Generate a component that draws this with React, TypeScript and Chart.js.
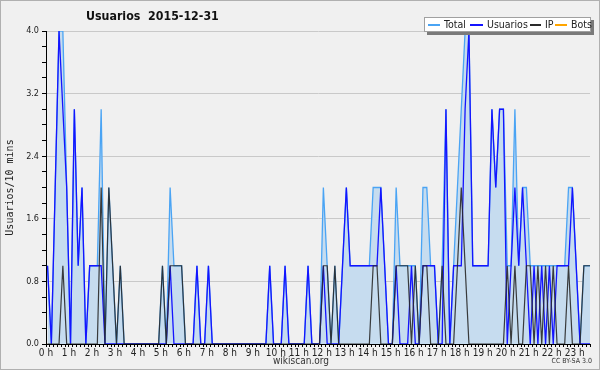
import React, { useEffect, useRef } from "react";
import { Chart, registerables } from "chart.js";

Chart.register(...registerables);

// 10-minute slots from 00:00 (index 0) to 23:40 (index 142)
const hourLabels = [
  "0 h", "1 h", "2 h", "3 h", "4 h", "5 h", "6 h", "7 h", "8 h", "9 h", "10 h", "11 h",
  "12 h", "13 h", "14 h", "15 h", "16 h", "17 h", "18 h", "19 h", "20 h", "21 h", "22 h", "23 h",
];
const yTickLabels = ["0.0", "0.8", "1.6", "2.4", "3.2", "4.0"];

const totalValues = [
  1, 0, 2, 4, 4, 2, 0, 3, 1, 2,
  0, 1, 1, 1, 3, 0, 2, 1, 0, 1,
  0, 0, 0, 0, 0, 0, 0, 0, 0, 0,
  1, 0, 2, 1, 1, 1, 0, 0, 0, 1,
  0, 0, 1, 0, 0, 0, 0, 0, 0, 0,
  0, 0, 0, 0, 0, 0, 0, 0, 1, 0,
  0, 0, 1, 0, 0, 0, 0, 0, 1, 0,
  0, 0, 2, 1, 0, 1, 0, 1, 2, 1,
  1, 1, 1, 1, 1, 2, 2, 2, 1, 0,
  0, 2, 1, 1, 1, 1, 1, 0, 2, 2,
  1, 1, 0, 1, 3, 0, 1, 2, 3, 4,
  4, 1, 1, 1, 1, 1, 3, 2, 3, 3,
  1, 1, 3, 1, 2, 2, 1, 1, 1, 1,
  1, 1, 1, 1, 1, 1, 2, 2, 1, 0,
  1, 1, 1,
];
const usuariosValues = [
  1, 0, 2, 4, 3, 2, 0, 3, 1, 2,
  0, 1, 1, 1, 1, 0, 0, 0, 0, 0,
  0, 0, 0, 0, 0, 0, 0, 0, 0, 0,
  0, 0, 1, 0, 0, 0, 0, 0, 0, 1,
  0, 0, 1, 0, 0, 0, 0, 0, 0, 0,
  0, 0, 0, 0, 0, 0, 0, 0, 1, 0,
  0, 0, 1, 0, 0, 0, 0, 0, 1, 0,
  0, 0, 1, 0, 0, 0, 0, 1, 2, 1,
  1, 1, 1, 1, 1, 1, 1, 2, 1, 0,
  0, 1, 0, 0, 0, 1, 0, 0, 1, 1,
  1, 1, 0, 0, 3, 0, 1, 1, 1, 3,
  4, 1, 1, 1, 1, 1, 3, 2, 3, 3,
  0, 1, 2, 1, 2, 1, 0, 1, 0, 1,
  0, 1, 0, 1, 1, 1, 1, 2, 1, 0,
  0, 0, 0,
];
const ipValues = [
  0, 0, 0, 0, 1, 0, 0, 0, 0, 0,
  0, 0, 0, 0, 2, 0, 2, 1, 0, 1,
  0, 0, 0, 0, 0, 0, 0, 0, 0, 0,
  1, 0, 1, 1, 1, 1, 0, 0, 0, 0,
  0, 0, 0, 0, 0, 0, 0, 0, 0, 0,
  0, 0, 0, 0, 0, 0, 0, 0, 0, 0,
  0, 0, 0, 0, 0, 0, 0, 0, 0, 0,
  0, 0, 1, 1, 0, 1, 0, 0, 0, 0,
  0, 0, 0, 0, 0, 1, 1, 0, 0, 0,
  0, 1, 1, 1, 1, 0, 1, 0, 1, 1,
  0, 0, 0, 1, 0, 0, 0, 1, 2, 1,
  0, 0, 0, 0, 0, 0, 0, 0, 0, 0,
  1, 0, 1, 0, 0, 1, 1, 0, 1, 0,
  1, 0, 1, 0, 0, 0, 1, 0, 0, 0,
  1, 1, 1,
];
const botsValues = [
  0, 0, 0, 0, 0, 0, 0, 0, 0, 0, 0, 0, 0, 0, 0, 0, 0, 0, 0, 0,
  0, 0, 0, 0, 0, 0, 0, 0, 0, 0, 0, 0, 0, 0, 0, 0, 0, 0, 0, 0,
  0, 0, 0, 0, 0, 0, 0, 0, 0, 0, 0, 0, 0, 0, 0, 0, 0, 0, 0, 0,
  0, 0, 0, 0, 0, 0, 0, 0, 0, 0, 0, 0, 0, 0, 0, 0, 0, 0, 0, 0,
  0, 0, 0, 0, 0, 0, 0, 0, 0, 0, 0, 0, 0, 0, 0, 0, 0, 0, 0, 0,
  0, 0, 0, 0, 0, 0, 0, 0, 0, 0, 0, 0, 0, 0, 0, 0, 0, 0, 0, 0,
  0, 0, 0, 0, 0, 0, 0, 0, 0, 0, 0, 0, 0, 0, 0, 0, 0, 0, 0, 0,
  0, 0, 0,
];

const SLOT_OFFSET = 0.4;
const toPoints = (arr: number[]) => arr.map((y, i) => ({ x: i + SLOT_OFFSET, y }));

const FONT = "'DejaVu Sans Condensed', 'DejaVu Sans', sans-serif";
const C_TOTAL = "#4aa4f4";
const C_USU = "#1414ff";
const C_IP = "#2a2a2a";
const C_BOTS = "#ffa500";

export default function App() {
  const ref = useRef<HTMLCanvasElement | null>(null);

  useEffect(() => {
    document.body.style.margin = "0";
    if (!ref.current) return;
    const chart = new Chart(ref.current, {
      type: "line",
      data: {
        datasets: [
          { label: "IP", data: toPoints(ipValues), borderColor: "rgba(40,40,40,0.9)", borderWidth: 1.2, fill: false, order: 1 },
          { label: "Usuarios", data: toPoints(usuariosValues), borderColor: C_USU, borderWidth: 1.3, fill: false, order: 2 },
          {
            label: "Total",
            data: toPoints(totalValues),
            borderColor: C_TOTAL,
            backgroundColor: "#c6dcef",
            borderWidth: 1.3,
            fill: "origin",
            order: 3,
          },
          { label: "Bots", data: toPoints(botsValues), borderColor: C_BOTS, borderWidth: 1, fill: false, order: 4 },
        ],
      },
      options: {
        animation: false,
        responsive: false,
        layout: { padding: { top: 31, right: 10, left: 0, bottom: 0 } },
        plugins: { legend: { display: false }, tooltip: { enabled: false }, title: { display: false } },
        elements: { point: { radius: 0 }, line: { tension: 0 } },
        scales: {
          x: {
            type: "linear",
            min: 0,
            max: 142,
            z: 1,
            afterFit: (s: any) => {
              s.height = 26;
            },
            afterBuildTicks: (s: any) => {
              s.ticks = Array.from({ length: 143 }, (_, i) => ({ value: i }));
            },
            ticks: {
              autoSkip: false,
              maxRotation: 0,
              minRotation: 0,
              padding: 0,
              color: "#222",
              font: { family: FONT, size: 10 },
              callback: (v: any) => (Number(v) % 6 === 0 ? hourLabels[Number(v) / 6] : ""),
            },
            grid: { drawOnChartArea: false, tickLength: 3, tickColor: "#000", color: "#000" },
            border: { color: "#000", width: 1 },
          },
          y: {
            min: 0,
            max: 4,
            z: 1,
            afterFit: (s: any) => {
              s.width = 46;
            },
            afterBuildTicks: (s: any) => {
              s.ticks = Array.from({ length: 21 }, (_, i) => ({ value: i * 0.2 }));
            },
            ticks: {
              autoSkip: false,
              padding: 3,
              color: "#222",
              font: { family: FONT, size: 9 },
              callback: (_v: any, idx: number) => (idx % 4 === 0 ? yTickLabels[idx / 4] : ""),
            },
            grid: {
              color: (ctx: any) => (ctx.index % 4 === 0 ? "#c9c9c9" : "rgba(0,0,0,0)"),
              tickColor: "#000",
              tickLength: 4,
              lineWidth: 1,
            },
            border: { color: "#000", width: 1 },
            title: {
              display: true,
              text: "Usuarios/10 mins",
              color: "#222",
              font: { family: "'DejaVu Sans Mono', monospace", size: 10 },
              padding: { top: 4, bottom: 0 },
            },
          },
        },
      },
    });
    return () => chart.destroy();
  }, []);

  const abs = (extra: React.CSSProperties): React.CSSProperties => ({ position: "absolute", ...extra });
  const legendLine = (left: number, width: number, color: string) => (
    <div style={abs({ left, top: 24, width, height: 1.5, background: color })} />
  );
  const legendText = (left: number, text: string) => (
    <div style={abs({ left, top: 17, fontFamily: FONT, fontSize: 10.5, lineHeight: "15px", color: "#222", whiteSpace: "nowrap" })}>
      {text}
    </div>
  );

  return (
    <div style={{ position: "relative", width: 600, height: 370, background: "#f0f0f0", overflow: "hidden" }}>
      <canvas ref={ref} width={600} height={370} style={{ position: "absolute", left: 0, top: 0 }} />
      <div
        style={abs({
          left: 86,
          top: 9,
          fontFamily: FONT,
          fontWeight: "bold",
          fontSize: 12.3,
          color: "#111",
          whiteSpace: "pre",
        })}
      >
        {"Usuarios  2015-12-31"}
      </div>
      <div
        style={abs({
          left: 424,
          top: 17,
          width: 167,
          height: 15,
          boxSizing: "border-box",
          background: "#fff",
          border: "1px solid #a0a0a0",
          boxShadow: "3px 3px 0 #7a7a7a",
        })}
      />
      {legendLine(428, 12, C_TOTAL)}
      {legendText(444, "Total")}
      {legendLine(470, 13, C_USU)}
      {legendText(487, "Usuarios")}
      {legendLine(530, 11, C_IP)}
      {legendText(545, "IP")}
      {legendLine(555, 12, C_BOTS)}
      {legendText(571, "Bots")}
      <div style={abs({ left: 0, width: 602, top: 355, textAlign: "center", fontFamily: FONT, fontSize: 10, color: "#333" })}>
        wikiscan.org
      </div>
      <div style={abs({ right: 8, top: 357, fontFamily: FONT, fontSize: 7, color: "#333" })}>CC BY-SA 3.0</div>
      <div
        style={abs({
          left: 0,
          top: 0,
          width: 600,
          height: 370,
          boxSizing: "border-box",
          border: "1px solid #b0b0b0",
          pointerEvents: "none",
        })}
      />
    </div>
  );
}
